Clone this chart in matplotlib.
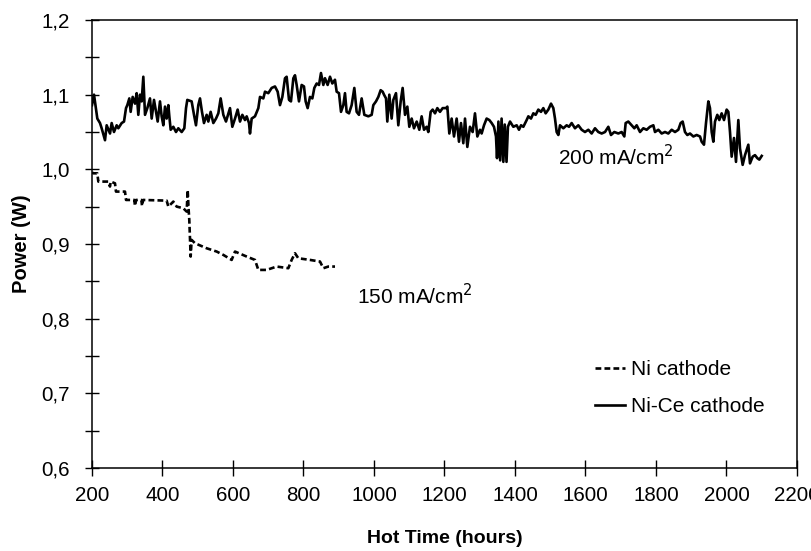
import matplotlib.pyplot as plt
from matplotlib.ticker import MultipleLocator, FuncFormatter

plt.rcParams['font.family'] = ['Liberation Sans', 'DejaVu Sans']

# Ni-Ce cathode, 200 mA/cm2 (solid line)
nice_hours = [
    200, 205.7, 215.1, 222.7, 227.4, 236.9, 241.6, 251.1, 255.8, 262.4,
    270.0, 274.7, 284.2, 290.8, 296.5, 300.2, 305.9, 309.7, 315.4, 322.0,
    326.7, 331.4, 336.2, 340.9, 345.6, 350.4, 357.0, 364.5, 369.3, 375.9,
    381.6, 386.3, 392.9, 397.6, 402.4, 407.1, 411.8, 416.6, 419.4, 423.2,
    430.7, 438.3, 444.9, 454.4, 461.9, 466.7, 470.4, 482.7, 489.4, 495.0,
    501.6, 506.4, 512.0, 517.7, 525.3, 530.0, 536.6, 544.2, 551.8, 558.4,
    565.0, 572.6, 580.1, 591.5, 598.1, 605.7, 613.2, 619.9, 626.5, 634.0,
    638.8, 645.4, 648.2, 653.0, 662.4, 671.9, 676.6, 686.0, 690.8, 700.2,
    709.7, 719.1, 726.7, 733.3, 740.0, 747.5, 752.2, 758.9, 764.5, 771.2,
    775.9, 780.6, 787.2, 794.8, 801.4, 806.1, 811.8, 818.4, 825.1, 830.7,
    837.4, 844.0, 849.6, 856.3, 861.0, 868.5, 875.2, 881.8, 889.3, 894.1,
    900.7, 906.4, 913.0, 917.7, 922.4, 929.1, 936.6, 944.2, 950.8, 957.4,
    965.0, 972.6, 984.0, 993.4, 998.1, 1005.7, 1012.3, 1018.9, 1024.6, 1028.4,
    1034.1, 1037.8, 1043.5, 1050.1, 1054.9, 1062.4, 1069.0, 1075.7, 1081.3, 1088.0,
    1094.6, 1100.2, 1106.9, 1113.5, 1121.1, 1128.6, 1135.2, 1141.9, 1149.4, 1154.1,
    1160.8, 1166.4, 1173.1, 1179.7, 1187.2, 1194.8, 1204.3, 1208.1, 1213.7, 1220.3,
    1227.0, 1234.5, 1241.1, 1246.8, 1253.4, 1258.2, 1264.8, 1272.3, 1279.9, 1286.5,
    1293.2, 1300.7, 1305.4, 1312.1, 1319.6, 1327.2, 1333.8, 1340.4, 1346.1, 1349.0,
    1353.0, 1358.0, 1362.0, 1367.0, 1371.0, 1376.0, 1380.0, 1385.9, 1395.3, 1404.8,
    1411.4, 1417.1, 1423.7, 1433.1, 1437.9, 1445.4, 1452.0, 1458.7, 1466.2, 1473.8,
    1480.4, 1487.0, 1494.6, 1502.2, 1508.8, 1513.5, 1518.2, 1523.0, 1527.7, 1537.2,
    1546.6, 1553.2, 1560.8, 1570.2, 1579.7, 1589.2, 1598.6, 1608.1, 1617.5, 1627.0,
    1636.4, 1645.9, 1655.4, 1664.8, 1672.4, 1681.8, 1693.2, 1702.6, 1710.2, 1714.0,
    1721.5, 1731.0, 1738.6, 1745.2, 1754.7, 1764.1, 1773.6, 1783.0, 1792.5, 1797.2,
    1806.7, 1816.1, 1825.6, 1835.0, 1844.5, 1854.0, 1863.4, 1870.0, 1875.7, 1882.3,
    1888.9, 1896.5, 1906.0, 1915.4, 1924.9, 1929.6, 1936.2, 1941.9, 1948.5, 1953.2,
    1958.0, 1962.7, 1967.4, 1974.0, 1979.7, 1986.3, 1993.0, 2000.5, 2005.3, 2010.0,
    2014.7, 2021.3, 2027.0, 2033.6, 2038.3, 2045.9, 2052.5, 2057.3, 2062.0, 2066.7,
    2074.3, 2080.9, 2087.5, 2093.2, 2100.0,
]
nice_power = [
    1.086, 1.100, 1.068, 1.062, 1.055, 1.039, 1.059, 1.048, 1.062, 1.050,
    1.059, 1.055, 1.062, 1.064, 1.082, 1.086, 1.095, 1.077, 1.097, 1.088,
    1.102, 1.073, 1.100, 1.091, 1.124, 1.073, 1.082, 1.095, 1.068, 1.093,
    1.077, 1.064, 1.091, 1.071, 1.059, 1.084, 1.068, 1.086, 1.071, 1.053,
    1.057, 1.050, 1.055, 1.050, 1.055, 1.082, 1.093, 1.091, 1.073, 1.059,
    1.086, 1.095, 1.077, 1.062, 1.073, 1.064, 1.077, 1.062, 1.068, 1.075,
    1.095, 1.073, 1.064, 1.082, 1.057, 1.068, 1.080, 1.064, 1.073, 1.066,
    1.071, 1.062, 1.048, 1.068, 1.071, 1.082, 1.097, 1.095, 1.104, 1.102,
    1.109, 1.111, 1.104, 1.086, 1.097, 1.122, 1.124, 1.093, 1.091, 1.122,
    1.126, 1.113, 1.091, 1.113, 1.111, 1.091, 1.082, 1.097, 1.095, 1.109,
    1.115, 1.113, 1.129, 1.113, 1.122, 1.113, 1.124, 1.115, 1.120, 1.104,
    1.102, 1.077, 1.086, 1.102, 1.077, 1.075, 1.086, 1.109, 1.077, 1.073,
    1.095, 1.073, 1.071, 1.073, 1.086, 1.091, 1.097, 1.106, 1.104, 1.100,
    1.095, 1.064, 1.100, 1.068, 1.093, 1.102, 1.059, 1.091, 1.109, 1.073,
    1.084, 1.057, 1.068, 1.055, 1.064, 1.053, 1.071, 1.053, 1.057, 1.050,
    1.077, 1.080, 1.075, 1.082, 1.077, 1.082, 1.082, 1.084, 1.048, 1.068,
    1.044, 1.068, 1.037, 1.062, 1.035, 1.068, 1.030, 1.057, 1.050, 1.075,
    1.044, 1.053, 1.048, 1.059, 1.068, 1.066, 1.062, 1.057, 1.044, 1.015,
    1.064, 1.012, 1.068, 1.010, 1.060, 1.010, 1.057, 1.064, 1.057, 1.059,
    1.053, 1.059, 1.057, 1.066, 1.071, 1.068, 1.075, 1.073, 1.080, 1.077,
    1.082, 1.075, 1.080, 1.088, 1.082, 1.068, 1.050, 1.046, 1.059, 1.055,
    1.059, 1.057, 1.062, 1.055, 1.059, 1.053, 1.050, 1.053, 1.048, 1.055,
    1.050, 1.048, 1.050, 1.057, 1.046, 1.050, 1.048, 1.050, 1.044, 1.062,
    1.064, 1.059, 1.055, 1.059, 1.050, 1.055, 1.053, 1.057, 1.059, 1.050,
    1.053, 1.048, 1.050, 1.048, 1.053, 1.050, 1.053, 1.062, 1.064, 1.050,
    1.046, 1.048, 1.044, 1.046, 1.044, 1.037, 1.033, 1.062, 1.091, 1.082,
    1.050, 1.037, 1.064, 1.073, 1.066, 1.075, 1.066, 1.080, 1.077, 1.050,
    1.017, 1.042, 1.010, 1.066, 1.028, 1.006, 1.019, 1.026, 1.033, 1.008,
    1.017, 1.019, 1.015, 1.013, 1.018,
]

# Ni cathode, 150 mA/cm2 (dashed line)
ni_hours = [
    200, 203.8, 215, 218, 246.3, 251, 253, 265.2, 268, 293.6,
    296.5, 320, 322, 325, 340, 342, 345, 411.8, 416.6, 430.7,
    440.2, 459.0, 468.6, 471.4, 474.2, 476.0, 479.9, 482.7, 492.2, 525.3,
    553.7, 572.6, 596.2, 605.7, 638.8, 662.4, 671.9, 695.5, 723.9, 757.0,
    766.4, 775.9, 785.3, 818.4, 846.8, 856.3, 870.4, 889.4,
]
ni_power = [
    0.9960, 0.9947, 0.9947, 0.9836, 0.9836, 0.9770, 0.9836, 0.9813, 0.9702, 0.9702,
    0.9590, 0.9590, 0.9510, 0.9590, 0.9590, 0.9510, 0.9590, 0.9581, 0.9501, 0.9568,
    0.9501, 0.9479, 0.9434, 0.9724, 0.9456, 0.9323, 0.8832, 0.9055, 0.9010, 0.8943,
    0.8899, 0.8854, 0.8787, 0.8899, 0.8832, 0.8787, 0.8653, 0.8653, 0.8698, 0.8676,
    0.8787, 0.8876, 0.8809, 0.8787, 0.8765, 0.8676, 0.8698, 0.8698,
]

fig = plt.figure(figsize=(8.12, 5.51), dpi=100)
ax = fig.add_axes([0.1133, 0.1506, 0.8682, 0.8131])

ax.plot(ni_hours, ni_power, color='black', linewidth=1.9,
        linestyle=(0, (2.2, 1.2)), label='Ni cathode')
ax.plot(nice_hours, nice_power, color='black', linewidth=1.9,
        linestyle='-', label='Ni-Ce cathode')

ax.set_xlim(200, 2200)
ax.set_ylim(0.6, 1.2)
ax.xaxis.set_major_locator(MultipleLocator(200))
ax.yaxis.set_major_locator(MultipleLocator(0.1))
ax.yaxis.set_minor_locator(MultipleLocator(0.05))
ax.yaxis.set_major_formatter(FuncFormatter(lambda v, p: f"{v:.1f}".replace('.', ',')))

ax.tick_params(axis='both', which='both', direction='inout', width=1,
               labelsize=14.8, top=False, right=False)
ax.tick_params(axis='x', which='major', length=12, pad=7)
ax.tick_params(axis='y', which='both', length=10, pad=11)
for s in ax.spines.values():
    s.set_linewidth(1.1)

ax.set_xlabel('Hot Time (hours)', fontsize=14, fontweight='bold', labelpad=18)
ax.set_ylabel('Power (W)', fontsize=14.5, fontweight='bold', labelpad=7)

ax.text(1522, 1.017, '200 mA/cm$^2$', fontsize=15, va='center')
ax.text(952, 0.831, '150 mA/cm$^2$', fontsize=15, va='center')

ax.legend(loc='upper left', bbox_to_anchor=(0.714, 0.24), frameon=False,
          fontsize=15, handlelength=1.4, handletextpad=0.33,
          labelspacing=0.85, borderpad=0, borderaxespad=0)

fig.savefig('out.png', dpi=100)
